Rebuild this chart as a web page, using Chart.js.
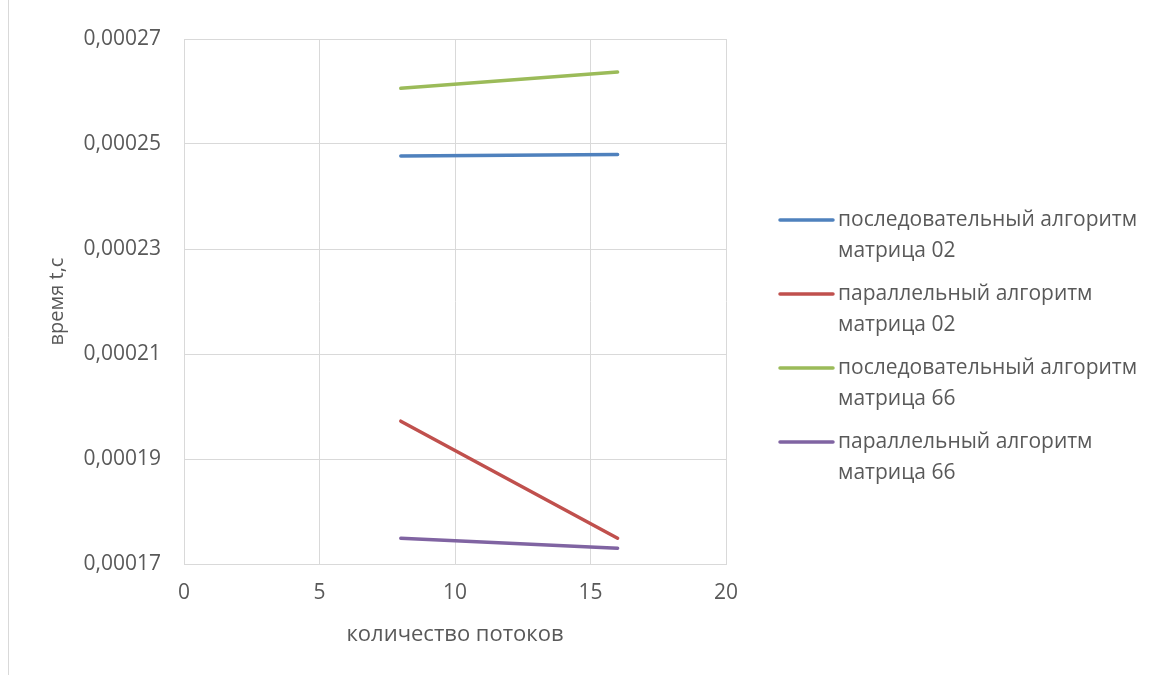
<!DOCTYPE html>
<html>
<head>
<meta charset="utf-8">
<script src="https://cdn.jsdelivr.net/npm/chart.js@4/dist/chart.umd.min.js"></script>
<style>
  html, body { margin: 0; padding: 0; background: #ffffff; }
  #wrap { width: 1149px; height: 675px; position: relative; }
</style>
</head>
<body>
<div id="wrap"><canvas id="c" width="1149" height="675"></canvas></div>
<script>
// Number of threads
const threads = [8, 16];

// Run time, seconds
const seqMatrix02 = [0.0002477, 0.0002480];
const parMatrix02 = [0.0001972, 0.0001749];
const seqMatrix66 = [0.0002606, 0.0002637];
const parMatrix66 = [0.0001749, 0.0001730];

// Series names, split into the two lines shown in the legend
const seriesNames = [
  ['последовательный алгоритм', 'матрица 02'],
  ['параллельный алгоритм', 'матрица 02'],
  ['последовательный алгоритм', 'матрица 66'],
  ['параллельный алгоритм', 'матрица 66']
];
const seriesValues = [seqMatrix02, parMatrix02, seqMatrix66, parMatrix66];
const seriesColors = ['#4f81bd', '#c0504d', '#9bbb59', '#8064a2'];

const xTitle = 'количество потоков';
const yTitle = 'время t,c';

const FONT = '"Open Sans", "DejaVu Sans", sans-serif';
const TEXT = '#595959';
const GRID = '#d9d9d9';

const datasets = seriesValues.map((vals, i) => ({
  label: seriesNames[i].join(' '),
  lines: seriesNames[i],
  data: threads.map((x, j) => ({ x: x, y: vals[j] })),
  borderColor: seriesColors[i],
  backgroundColor: seriesColors[i],
  borderWidth: 3.5,
  borderCapStyle: 'round',
  showLine: true,
  pointRadius: 0,
  pointHoverRadius: 0,
  fill: false
}));

// Two-line legend to the right of the plot, plus the frame edge on the left
const sideLegend = {
  id: 'sideLegend',
  afterDraw(chart) {
    const ctx = chart.ctx;
    ctx.save();
    ctx.strokeStyle = GRID;
    ctx.lineWidth = 1;
    ctx.beginPath();
    ctx.moveTo(8.5, 0);
    ctx.lineTo(8.5, 675);
    ctx.stroke();

    const x0 = 780, x1 = 833, tx = 838;
    const top = 220, step = 74, lh = 31;
    ctx.font = '21px ' + FONT;
    ctx.fillStyle = TEXT;
    ctx.textBaseline = 'middle';
    ctx.textAlign = 'left';
    chart.data.datasets.forEach((ds, i) => {
      const y = top + i * step;
      ctx.strokeStyle = ds.borderColor;
      ctx.lineWidth = 3.5;
      ctx.lineCap = 'round';
      ctx.beginPath();
      ctx.moveTo(x0, y);
      ctx.lineTo(x1, y);
      ctx.stroke();
      ds.lines.forEach((t, k) => ctx.fillText(t, tx, y + k * lh));
    });
    ctx.restore();
  }
};

new Chart(document.getElementById('c'), {
  type: 'scatter',
  data: { datasets: datasets },
  plugins: [sideLegend],
  options: {
    responsive: false,
    animation: false,
    devicePixelRatio: 1,
    layout: { padding: { top: 39, right: 423, bottom: 0, left: 0 } },
    plugins: {
      legend: { display: false },
      tooltip: { enabled: false }
    },
    scales: {
      x: {
        type: 'linear',
        min: 0,
        max: 20,
        afterFit(scale) { scale.height = 111; },
        grid: { color: GRID, lineWidth: 1, drawTicks: false },
        border: { color: GRID },
        ticks: {
          stepSize: 5,
          padding: 16,
          color: TEXT,
          font: { family: FONT, size: 21 }
        },
        title: {
          display: true,
          text: xTitle,
          color: TEXT,
          font: { family: FONT, size: 22 },
          padding: { top: 0, bottom: 27 }
        }
      },
      y: {
        type: 'linear',
        min: 0.00017,
        max: 0.00027,
        afterFit(scale) { scale.width = 184; },
        grid: { color: GRID, lineWidth: 1, drawTicks: false },
        border: { color: GRID },
        ticks: {
          stepSize: 0.00002,
          padding: 23,
          color: TEXT,
          font: { family: FONT, size: 21 },
          callback: (v) => (Math.round(v * 1e5) / 1e5).toFixed(5).replace('.', ',')
        },
        title: {
          display: true,
          text: yTitle,
          color: TEXT,
          font: { family: FONT, size: 20 },
          padding: { top: 45, bottom: 0 }
        }
      }
    }
  }
});
</script>
</body>
</html>
